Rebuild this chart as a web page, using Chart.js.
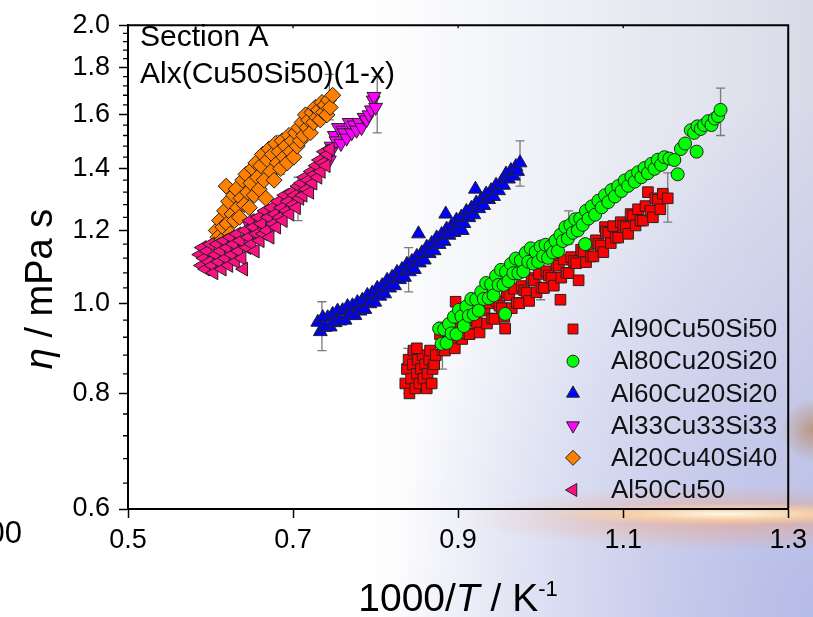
<!DOCTYPE html>
<html>
<head>
<meta charset="utf-8">
<script src="https://cdn.jsdelivr.net/npm/chart.js@4.4.1/dist/chart.umd.min.js"></script>
<style>
  html, body { margin: 0; padding: 0; }
  body {
    width: 813px; height: 617px; overflow: hidden;
    background:
      radial-gradient(ellipse 180px 11px at 725px 514px, rgba(255,253,235,0.95) 0%, rgba(255,215,160,0.75) 50%, rgba(255,160,100,0) 100%),
      radial-gradient(ellipse 270px 32px at 730px 518px, rgba(255,150,95,0.5) 0%, rgba(255,150,95,0) 100%),
      radial-gradient(circle 32px at 813px 430px, rgba(185,140,105,0.8) 0%, rgba(185,140,105,0) 100%),
      radial-gradient(ellipse 420px 520px at 100% 100%, rgba(176,182,232,0.85) 0%, rgba(176,182,232,0) 100%),
      linear-gradient(to right, #ffffff 0%, #ffffff 45%, #eceef5 72%, #d8dae8 100%);
  }
  #wrap { position: relative; width: 813px; height: 617px; }
</style>
</head>
<body>
<div id="wrap"><canvas id="chart"></canvas></div>
<script>
const FONT = '"Liberation Sans", Arial, Helvetica, sans-serif';

// axis ticks
const xTicks = [0.5, 0.7, 0.9, 1.1, 1.3];
const yTicks = [0.6, 0.8, 1.0, 1.2, 1.4, 1.6, 1.8, 2.0];
const yMinorStep = 0.04;

const seriesNames = ['Al90Cu50Si50', 'Al80Cu20Si20', 'Al60Cu20Si20', 'Al33Cu33Si33', 'Al20Cu40Si40', 'Al50Cu50'];

// [1000/T, eta]
const al90 = [
  [0.836,0.82],[0.838,0.85],[0.840,0.87],[0.841,0.80],[0.843,0.83],[0.845,0.86],[0.846,0.89],[0.848,0.81],
  [0.850,0.84],[0.851,0.87],[0.853,0.82],[0.855,0.85],[0.857,0.88],[0.858,0.83],[0.860,0.86],[0.862,0.81],
  [0.863,0.84],[0.865,0.87],[0.866,0.89],[0.868,0.82],[0.869,0.85],[0.871,0.86],[0.873,0.88],[0.850,0.895],
  [0.878,0.927],[0.881,0.891],[0.884,0.89],[0.887,0.934],[0.890,0.922],[0.893,0.916],[0.896,0.895],[0.897,1.005],
  [0.899,0.954],[0.902,0.947],[0.905,0.916],[0.908,0.965],[0.911,0.928],[0.914,0.927],[0.917,0.970],[0.920,0.959],
  [0.923,0.953],[0.926,0.931],[0.929,0.99],[0.932,0.983],[0.935,0.952],[0.938,1.001],[0.941,0.964],[0.944,0.963],
  [0.947,1.006],[0.950,0.995],[0.953,0.989],[0.956,0.968],[0.957,0.94],[0.959,1.027],[0.962,1.021],[0.965,0.989],
  [0.968,1.038],[0.971,1.002],[0.974,1.001],[0.977,1.045],[0.980,1.034],[0.983,1.028],[0.986,1.007],[0.989,1.066],
  [0.992,1.060],[0.995,1.029],[0.998,1.077],[1.001,1.041],[1.004,1.040],[1.007,1.084],[1.010,1.073],[1.013,1.067],
  [1.016,1.046],[1.019,1.105],[1.022,1.099],[1.024,1.01],[1.025,1.067],[1.028,1.116],[1.031,1.08],[1.034,1.079],
  [1.037,1.123],[1.040,1.112],[1.043,1.106],[1.046,1.06],[1.049,1.144],[1.052,1.139],[1.055,1.109],[1.058,1.159],
  [1.061,1.125],[1.064,1.125],[1.067,1.171],[1.070,1.161],[1.073,1.156],[1.076,1.137],[1.078,1.21],[1.079,1.197],
  [1.082,1.193],[1.085,1.163],[1.088,1.213],[1.091,1.179],[1.094,1.179],[1.097,1.225],[1.100,1.215],[1.103,1.21],
  [1.106,1.19],[1.109,1.25],[1.112,1.245],[1.115,1.215],[1.118,1.265],[1.121,1.23],[1.124,1.23],[1.127,1.275],
  [1.130,1.32],[1.133,1.26],[1.136,1.24],[1.139,1.30],[1.142,1.295],[1.145,1.265],[1.148,1.315],[1.154,1.30]
];
const al80 = [
  [0.877,0.94],[0.880,0.905],[0.883,0.938],[0.886,0.907],[0.889,0.951],[0.892,0.929],[0.895,0.968],[0.898,0.927],
  [0.901,0.985],[0.904,0.969],[0.907,0.946],[0.910,0.993],[0.913,0.970],[0.916,1.012],[0.919,0.974],[0.922,1.011],
  [0.925,0.983],[0.928,1.03],[0.931,1.012],[0.934,1.053],[0.937,1.014],[0.940,1.05],[0.943,1.021],[0.946,1.072],
  [0.949,1.048],[0.952,1.088],[0.955,1.048],[0.957,0.975],[0.958,1.083],[0.961,1.058],[0.964,1.104],[0.967,1.079],
  [0.970,1.119],[0.973,1.079],[0.976,1.114],[0.979,1.084],[0.982,1.135],[0.985,1.11],[0.988,1.148],[0.991,1.105],
  [0.994,1.138],[0.997,1.11],[1.000,1.153],[1.003,1.126],[1.006,1.158],[1.009,1.121],[1.012,1.153],[1.015,1.136],
  [1.018,1.17],[1.021,1.14],[1.024,1.187],[1.027,1.169],[1.030,1.21],[1.033,1.176],[1.036,1.217],[1.039,1.193],
  [1.042,1.234],[1.045,1.20],[1.048,1.236],[1.051,1.217],[1.054,1.16],[1.055,1.26],[1.058,1.236],[1.062,1.274],
  [1.066,1.248],[1.070,1.292],[1.074,1.271],[1.078,1.31],[1.082,1.288],[1.086,1.327],[1.090,1.306],[1.094,1.34],
  [1.098,1.324],[1.102,1.359],[1.106,1.341],[1.110,1.373],[1.114,1.355],[1.118,1.387],[1.122,1.37],[1.126,1.402],
  [1.130,1.384],[1.134,1.416],[1.138,1.399],[1.142,1.431],[1.146,1.413],[1.150,1.44],[1.156,1.435],[1.162,1.43],
  [1.166,1.38],[1.170,1.47],[1.175,1.49],[1.189,1.46],[1.182,1.54],[1.186,1.53],[1.190,1.555],[1.194,1.545],
  [1.198,1.56],[1.203,1.575],[1.207,1.56],[1.211,1.585],[1.215,1.595],[1.218,1.62]
];
const al60 = [
  [0.730,0.955],[0.733,0.933],[0.736,0.966],[0.739,0.943],[0.742,0.966],[0.745,0.944],[0.748,0.974],[0.751,0.954],
  [0.754,0.982],[0.757,0.958],[0.760,0.983],[0.763,0.96],[0.766,0.993],[0.769,0.971],[0.772,0.995],[0.775,0.971],
  [0.778,1.003],[0.781,0.982],[0.784,1.009],[0.787,0.986],[0.790,1.021],[0.793,1.00],[0.796,1.027],[0.799,1.004],
  [0.802,1.039],[0.805,1.019],[0.808,1.046],[0.811,1.025],[0.814,1.06],[0.817,1.04],[0.820,1.068],[0.823,1.046],
  [0.826,1.081],[0.829,1.062],[0.832,1.089],[0.835,1.068],[0.838,1.103],[0.841,1.083],[0.844,1.111],[0.847,1.089],
  [0.850,1.125],[0.852,1.19],[0.853,1.107],[0.856,1.135],[0.859,1.115],[0.862,1.151],[0.865,1.133],[0.868,1.162],
  [0.871,1.141],[0.874,1.178],[0.877,1.159],[0.880,1.188],[0.883,1.168],[0.885,1.25],[0.886,1.204],[0.889,1.186],
  [0.892,1.214],[0.895,1.194],[0.898,1.231],[0.901,1.212],[0.904,1.241],[0.905,1.20],[0.907,1.221],[0.910,1.258],
  [0.913,1.239],[0.916,1.268],[0.919,1.248],[0.921,1.33],[0.922,1.285],[0.925,1.267],[0.928,1.296],[0.931,1.277],
  [0.934,1.314],[0.937,1.296],[0.940,1.325],[0.943,1.306],[0.946,1.343],[0.949,1.325],[0.952,1.352],[0.955,1.343],
  [0.958,1.381],[0.961,1.364],[0.964,1.393],[0.967,1.374],[0.970,1.407],[0.972,1.39],[0.975,1.42]
];
const al33 = [
  [0.600,1.10],[0.606,1.12],[0.612,1.11],[0.618,1.13],[0.624,1.15],[0.630,1.14],[0.636,1.17],[0.641,1.16],
  [0.646,1.22],[0.651,1.19],[0.656,1.21],[0.661,1.20],[0.666,1.23],[0.672,1.20],[0.676,1.25],[0.680,1.24],
  [0.684,1.27],[0.688,1.26],[0.692,1.28],[0.696,1.27],[0.700,1.30],[0.704,1.29],[0.708,1.32],[0.712,1.31],
  [0.716,1.34],[0.720,1.33],[0.724,1.36],[0.728,1.38],[0.732,1.40],[0.736,1.42],[0.740,1.44],[0.744,1.43],
  [0.746,1.48],[0.748,1.47],[0.750,1.52],[0.752,1.50],[0.755,1.55],[0.758,1.49],[0.760,1.54],[0.762,1.53],
  [0.765,1.51],[0.768,1.57],[0.771,1.53],[0.774,1.56],[0.777,1.54],[0.780,1.57],[0.783,1.55],[0.786,1.59],
  [0.789,1.58],[0.792,1.60],[0.795,1.62],[0.797,1.66],[0.798,1.675],[0.800,1.63]
];
const al20 = [
  [0.605,1.16],[0.607,1.20],[0.609,1.18],[0.611,1.23],[0.613,1.17],[0.615,1.21],[0.617,1.26],[0.619,1.34],
  [0.620,1.22],[0.622,1.29],[0.624,1.19],[0.626,1.25],[0.628,1.31],[0.629,1.23],[0.631,1.33],[0.633,1.27],
  [0.635,1.24],[0.637,1.30],[0.639,1.36],[0.641,1.28],[0.643,1.38],[0.645,1.32],[0.647,1.27],[0.649,1.35],
  [0.651,1.40],[0.653,1.31],[0.655,1.42],[0.657,1.37],[0.659,1.33],[0.661,1.41],[0.663,1.45],[0.665,1.36],
  [0.667,1.30],[0.669,1.43],[0.671,1.47],[0.673,1.39],[0.675,1.45],[0.677,1.36],[0.679,1.49],[0.681,1.42],
  [0.683,1.46],[0.685,1.40],[0.687,1.50],[0.689,1.44],[0.691,1.48],[0.693,1.42],[0.695,1.52],[0.697,1.46],
  [0.699,1.50],[0.701,1.44],[0.703,1.53],[0.705,1.48],[0.707,1.55],[0.709,1.50],[0.711,1.57],[0.713,1.52],
  [0.715,1.60],[0.717,1.55],[0.719,1.58],[0.721,1.53],[0.723,1.61],[0.725,1.57],[0.727,1.63],[0.729,1.59],
  [0.731,1.62],[0.733,1.58],[0.735,1.65],[0.737,1.61],[0.739,1.64],[0.741,1.60],[0.743,1.66],[0.745,1.63],
  [0.748,1.68]
];
const al50 = [
  [0.587,1.13],[0.589,1.10],[0.590,1.15],[0.592,1.12],[0.594,1.09],[0.596,1.14],[0.598,1.11],[0.600,1.16],
  [0.602,1.10],[0.604,1.08],[0.606,1.13],[0.608,1.16],[0.610,1.11],[0.612,1.14],[0.614,1.09],[0.616,1.17],
  [0.618,1.12],[0.620,1.15],[0.622,1.10],[0.624,1.18],[0.626,1.13],[0.628,1.16],[0.630,1.11],[0.632,1.19],
  [0.634,1.14],[0.636,1.17],[0.638,1.12],[0.640,1.09],[0.642,1.20],[0.644,1.15],[0.646,1.18],[0.648,1.23],
  [0.650,1.16],[0.652,1.21],[0.654,1.14],[0.656,1.19],[0.658,1.24],[0.660,1.17],[0.662,1.22],[0.664,1.19],
  [0.666,1.26],[0.668,1.20],[0.670,1.24],[0.672,1.18],[0.674,1.27],[0.676,1.22],[0.678,1.25],[0.680,1.21],
  [0.682,1.29],[0.684,1.24],[0.686,1.27],[0.688,1.23],[0.690,1.31],[0.692,1.26],[0.694,1.29],[0.696,1.25],
  [0.698,1.32],[0.700,1.28],[0.702,1.31],[0.704,1.27],[0.706,1.34],[0.708,1.30],[0.710,1.35],[0.712,1.31],
  [0.714,1.37],[0.716,1.33],[0.718,1.36],[0.720,1.32],[0.722,1.39],[0.724,1.35],[0.726,1.38],[0.728,1.41],
  [0.730,1.37],[0.732,1.43],[0.734,1.39],[0.736,1.42],[0.738,1.46],[0.740,1.41],[0.742,1.45],[0.745,1.47]
];

// error bars: [x, low, high]
const al90Err = [[0.839, 0.80, 0.895], [1.000, 1.01, 1.10], [1.154, 1.225, 1.385]];
const al80Err = [[0.881, 0.85, 0.955], [1.034, 1.16, 1.26], [1.218, 1.52, 1.71]];
const al60Err = [[0.735, 0.89, 1.005], [0.840, 1.03, 1.15], [0.975, 1.34, 1.50]];
const al33Err = [[0.802, 1.53, 1.76]];
const al20Err = [[0.611, 1.12, 1.21], [0.685, 1.38, 1.52], [0.744, 1.58, 1.77]];
const al50Err = [[0.706, 1.23, 1.37]];

const seriesData = [al90, al80, al60, al33, al20, al50];
const seriesErr = [al90Err, al80Err, al60Err, al33Err, al20Err, al50Err];

const markers = [
  { style: 'rect', radius: 7.5, rotation: 0, fill: '#ff0000' },
  { style: 'circle', radius: 6.5, rotation: 0, fill: '#00ff00' },
  { style: 'triangle', radius: 8, rotation: 0, fill: '#0000ff' },
  { style: 'triangle', radius: 8, rotation: 180, fill: '#ff00ff' },
  { style: 'rectRot', radius: 8, rotation: 0, fill: '#ff8000' },
  { style: 'triangle', radius: 8, rotation: 270, fill: '#ff0f84' }
];
const EDGE = '#222222';

const datasets = seriesNames.map((name, i) => ({
  label: name,
  data: seriesData[i].map(([x, y]) => ({ x, y })),
  pointStyle: markers[i].style,
  pointRadius: markers[i].radius,
  pointRotation: markers[i].rotation,
  backgroundColor: markers[i].fill,
  borderColor: EDGE,
  borderWidth: 1,
  showLine: false,
  order: seriesNames.length - i   // later series drawn on top
}));

function drawRuns(ctx, runs, x, y, align) {
  let total = 0;
  runs.forEach(r => { ctx.font = r.font; r.w = ctx.measureText(r.t).width; total += r.w; });
  let cx = align === 'center' ? x - total / 2 : x;
  runs.forEach(r => {
    ctx.font = r.font;
    ctx.fillText(r.t, cx, y + (r.dy || 0));
    cx += r.w;
  });
}

const decor = {
  id: 'decor',
  beforeDatasetsDraw(chart) {
    const { ctx, scales: { x, y } } = chart;
    ctx.save();
    ctx.strokeStyle = '#7a7a7a';
    ctx.lineWidth = 1.3;
    seriesErr.forEach(list => list.forEach(([xv, lo, hi]) => {
      const px = x.getPixelForValue(xv);
      const p1 = y.getPixelForValue(lo), p2 = y.getPixelForValue(hi);
      ctx.beginPath();
      ctx.moveTo(px, p1); ctx.lineTo(px, p2);
      ctx.moveTo(px - 4.5, p1); ctx.lineTo(px + 4.5, p1);
      ctx.moveTo(px - 4.5, p2); ctx.lineTo(px + 4.5, p2);
      ctx.stroke();
    }));
    ctx.restore();
  },
  afterDraw(chart) {
    const { ctx, chartArea: a, scales: { x, y } } = chart;
    ctx.save();

    // frame top and right
    ctx.strokeStyle = '#000';
    ctx.lineWidth = 2;
    ctx.beginPath();
    ctx.moveTo(a.left - 1, a.top); ctx.lineTo(a.right, a.top); ctx.lineTo(a.right, a.bottom);
    ctx.stroke();

    // minor y ticks
    ctx.lineWidth = 1.3;
    ctx.beginPath();
    for (let k = Math.round(0.6 / yMinorStep); k <= Math.round(2.0 / yMinorStep); k++) {
      if (k % 5 === 0) continue;
      const py = y.getPixelForValue(k * yMinorStep);
      ctx.moveTo(a.left, py); ctx.lineTo(a.left - 5, py);
    }
    // small inner ticks on the top axis
    xTicks.slice(1, -1).forEach(v => {
      const px = x.getPixelForValue(v);
      ctx.moveTo(px, a.top); ctx.lineTo(px, a.top + 3);
    });
    ctx.stroke();

    ctx.fillStyle = '#000';
    ctx.textBaseline = 'alphabetic';
    ctx.textAlign = 'left';

    // annotations
    ctx.font = `30px ${FONT}`;
    ctx.fillText('Section A', a.left + 12, 46);
    ctx.fillText('Alx(Cu50Si50)(1-x)', a.left + 12, 83);

    // x axis title
    drawRuns(ctx, [
      { t: '1000/', font: `39px ${FONT}` },
      { t: 'T', font: `italic 39px ${FONT}` },
      { t: ' / K', font: `39px ${FONT}` },
      { t: '-1', font: `22px ${FONT}`, dy: -15 }
    ], 458, 611, 'center');

    // y axis title
    ctx.save();
    ctx.translate(52, 289);
    ctx.rotate(-Math.PI / 2);
    drawRuns(ctx, [
      { t: 'η', font: `italic 38px ${FONT}` },
      { t: ' / mPa s', font: `38px ${FONT}` }
    ], 0, 0, 'center');
    ctx.restore();

    // stray label of the neighbouring panel
    ctx.textAlign = 'right';
    ctx.textBaseline = 'middle';
    ctx.font = `31px ${FONT}`;
    ctx.fillText('1.00', 22, 534);

    // legend
    ctx.textAlign = 'left';
    ctx.font = `26px ${FONT}`;
    const drawPoint = Chart.helpers && Chart.helpers.drawPoint;
    seriesNames.forEach((name, i) => {
      const ly = 329 + i * 32.2;
      const m = markers[i];
      ctx.fillStyle = m.fill;
      ctx.strokeStyle = EDGE;
      ctx.lineWidth = 1;
      if (drawPoint) {
        drawPoint(ctx, { pointStyle: m.style, radius: m.radius - 0.5, rotation: m.rotation, borderWidth: 1 }, 573, ly);
      }
      ctx.fillStyle = '#111';
      ctx.fillText(name, 611, ly + 1);
    });

    ctx.restore();
  }
};

new Chart(document.getElementById('chart'), {
  type: 'scatter',
  data: { datasets },
  options: {
    responsive: true,
    maintainAspectRatio: false,
    animation: false,
    events: [],
    layout: { padding: { left: 0, right: 22, top: 21, bottom: 0 } },
    plugins: {
      legend: { display: false },
      tooltip: { enabled: false },
      title: { display: false }
    },
    scales: {
      x: {
        type: 'linear',
        min: 0.5,
        max: 1.3,
        afterBuildTicks: s => { s.ticks = xTicks.map(v => ({ value: v })); },
        afterFit: s => { s.height = 108; },
        ticks: {
          autoSkip: false,
          maxRotation: 0,
          padding: 6,
          color: '#000',
          font: { family: FONT, size: 27 },
          callback: v => Number(v).toFixed(1)
        },
        grid: { drawOnChartArea: false, drawTicks: true, tickLength: 9, tickColor: '#000', tickWidth: 1.5 },
        border: { display: true, color: '#000', width: 2 }
      },
      y: {
        type: 'logarithmic',
        min: 0.6,
        max: 2.0,
        afterBuildTicks: s => { s.ticks = yTicks.map(v => ({ value: v })); },
        afterFit: s => { s.width = 128; },
        ticks: {
          autoSkip: false,
          padding: 9,
          color: '#000',
          font: { family: FONT, size: 27 },
          callback: v => Number(v).toFixed(1)
        },
        grid: { drawOnChartArea: false, drawTicks: true, tickLength: 9, tickColor: '#000', tickWidth: 1.5 },
        border: { display: true, color: '#000', width: 2 }
      }
    }
  },
  plugins: [decor]
});
</script>
</body>
</html>
